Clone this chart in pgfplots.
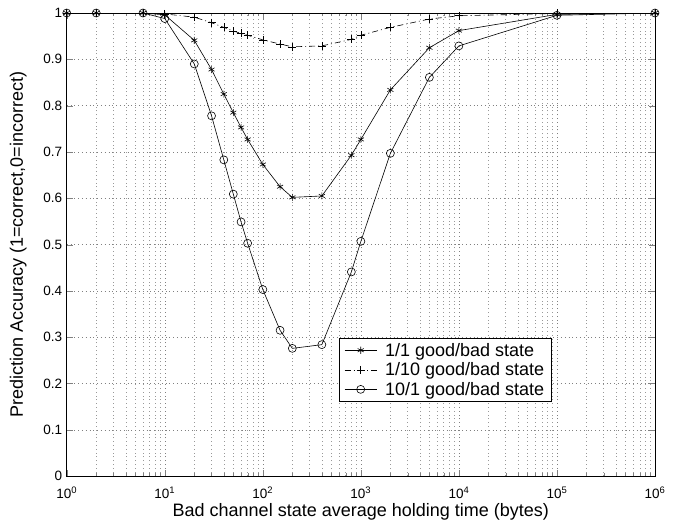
\documentclass[border=0pt]{standalone}
\usepackage{fontspec}
\setmainfont{Liberation Sans}
\usepackage{pgfplots}
\pgfplotsset{compat=1.18}
\begin{document}
\begin{tikzpicture}
\begin{axis}[
  name=main,
  scale only axis,
  width=588pt, height=463pt,
  xmode=log,
  xmin=1, xmax=1e6, ymin=0, ymax=1,
  xtick={1,10,100,1000,10000,100000,1000000},
  xticklabels={10\textsuperscript{0},10\textsuperscript{1},10\textsuperscript{2},10\textsuperscript{3},10\textsuperscript{4},10\textsuperscript{5},10\textsuperscript{6}},
  ytick={0,0.1,0.2,0.3,0.4,0.5,0.6,0.7,0.8,0.9,1},
  yticklabels={0,0.1,0.2,0.3,0.4,0.5,0.6,0.7,0.8,0.9,1},
  /pgf/number format/assume math mode=true,
  tick label style={font=\fontsize{13.5}{15}\selectfont},
  xticklabel style={yshift=-7pt},
  yticklabel style={xshift=-1pt},
  label style={font=\fontsize{18}{21}\selectfont},
  xlabel style={yshift=2pt},
  ylabel style={yshift=10pt},
  xlabel={Bad channel state average holding time (bytes)},
  ylabel={Prediction Accuracy (1=correct,0=incorrect)},
  tick align=inside,
  major tick length=6pt, minor tick length=3pt,
  grid=both,
  major grid style={dash pattern=on 0.8pt off 3pt, black!50, line width=0.5pt},
  minor grid style={dash pattern=on 0.8pt off 3pt, black!40, line width=0.5pt},
  minor y tick num=0,
  axis line style={line width=0.7pt},
  legend style={at={(0.463,0.298)}, anchor=north west, font=\fontsize{18}{21}\selectfont,
    draw=black, line width=0.6pt, inner xsep=5pt, inner ysep=2pt,
    nodes={inner ysep=2.5pt},
    /tikz/column 1/.style={column sep=6pt}},
  legend cell align=left,
  legend image code/.code={\draw[#1] (0pt,0pt) -- (16pt,0pt) (32pt,0pt) -- (16pt,0pt) plot coordinates {(16pt,0pt)};},
]
\addplot[black, line width=0.6pt, mark=asterisk, mark size=3.5pt, mark options={solid}] coordinates {
(1,1) (2,1) (6,1) (10,0.996) (20,0.941) (30,0.878) (40,0.825) (50,0.785) (60,0.753) (70,0.727)
(100,0.673) (150,0.625) (200,0.602) (400,0.605) (800,0.693) (1000,0.727) (2000,0.834)
(5000,0.925) (10000,0.962) (100000,0.997) (1000000,1)};
\addlegendentry{1/1 good/bad state}
\addplot[black, line width=0.6pt, dash pattern=on 6pt off 3pt on 1pt off 3pt, mark=+, mark size=4pt, mark options={solid}] coordinates {
(1,1) (2,1) (6,1) (10,0.998) (20,0.991) (30,0.979) (40,0.969) (50,0.961) (60,0.956) (70,0.952)
(100,0.942) (150,0.933) (200,0.927) (400,0.929) (800,0.943) (1000,0.952) (2000,0.969)
(5000,0.987) (10000,0.994) (100000,0.999) (1000000,1)};
\addlegendentry{1/10 good/bad state}
\addplot[black, line width=0.6pt, mark=o, mark size=4pt, mark options={solid}] coordinates {
(1,1) (2,1) (6,1) (10,0.988) (20,0.890) (30,0.778) (40,0.683) (50,0.609) (60,0.549) (70,0.503)
(100,0.403) (150,0.315) (200,0.276) (400,0.284) (800,0.441) (1000,0.507) (2000,0.697)
(5000,0.861) (10000,0.929) (100000,0.995) (1000000,1)};
\addlegendentry{10/1 good/bad state}
\end{axis}
\path (main.south west) ++(-66.7pt,-44pt) (main.north east) ++(23pt,13pt);
\end{tikzpicture}
\end{document}
